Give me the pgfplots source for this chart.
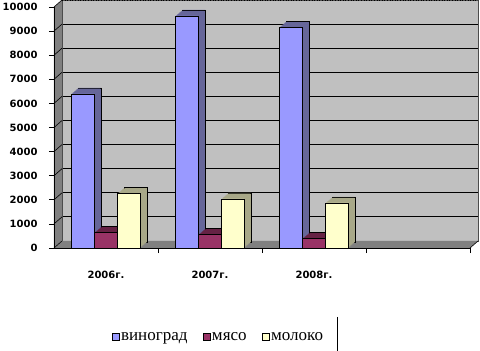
\documentclass[border=0pt]{standalone}
\usepackage{pgfplots}
\pgfplotsset{compat=1.18}
\usepackage{pgfplotstable}
\usepackage{fontspec}
\setmainfont{Liberation Serif}
\newfontfamily\tickfont{DejaVu Sans}
\definecolor{wall}{HTML}{C0C0C0}
\definecolor{side}{HTML}{808080}
\definecolor{vinF}{HTML}{9999FF}
\definecolor{vinS}{HTML}{666699}
\definecolor{myaF}{HTML}{993366}
\definecolor{myaS}{HTML}{662244}
\definecolor{molF}{HTML}{FFFFCC}
\definecolor{molS}{HTML}{A8A888}

\pgfplotstableread{
x vin mya mol
0 6400 640 2260
1 9630 560 2040
2 9160 390 1870
}\data

\newcommand\sweep[4]{% #1 column, #2 side colour, #3 bar shift (pt), #4 front colour
  \addplot[forget plot, fill=#2, draw=black, line width=0.5pt, bar shift={#3pt+7pt}, yshift=6pt] table[x=x,y=#1]{\data};
  \addplot[forget plot, fill=#2, draw=none, bar shift={#3pt+6pt}, yshift=5.14pt] table[x=x,y=#1]{\data};
  \addplot[forget plot, fill=#2, draw=none, bar shift={#3pt+5pt}, yshift=4.29pt] table[x=x,y=#1]{\data};
  \addplot[forget plot, fill=#2, draw=none, bar shift={#3pt+4pt}, yshift=3.43pt] table[x=x,y=#1]{\data};
  \addplot[forget plot, fill=#2, draw=none, bar shift={#3pt+3pt}, yshift=2.57pt] table[x=x,y=#1]{\data};
  \addplot[forget plot, fill=#2, draw=none, bar shift={#3pt+2pt}, yshift=1.71pt] table[x=x,y=#1]{\data};
  \addplot[forget plot, fill=#2, draw=none, bar shift={#3pt+1pt}, yshift=0.86pt] table[x=x,y=#1]{\data};
  \addplot[fill=#4, draw=black, line width=0.5pt, bar shift={#3pt}] table[x=x,y=#1]{\data};
}

\begin{document}
\begin{tikzpicture}[x=1pt,y=1pt]
\useasboundingbox (-54,-103) rectangle (426,248);
% back wall
\begin{axis}[at={(8pt,7pt)}, anchor=south west, scale only axis,
  width=416pt, height=241pt, xmin=-0.5, xmax=3.5, ymin=0, ymax=10000,
  xtick=\empty, ytick={0,1000,...,10000}, yticklabels={}, major tick length=0pt,
  scaled y ticks=false,
  ymajorgrids, grid style={black, line width=0.9pt},
  axis background/.style={fill=wall},
  axis line style={draw=gray!60!black, line width=0.6pt}]
\end{axis}
\draw[black, line width=0.6pt, dotted] (8,248) -- (424,248);
% side wall and floor
\fill[side] (0,0) -- (8,7) -- (8,248) -- (0,241) -- cycle;
\fill[side] (0,0) -- (416,0) -- (424,7) -- (8,7) -- cycle;
\foreach \k in {0,...,10} \draw[black, line width=0.6pt] (0,{24.1*\k}) -- (8,{24.1*\k+7});
\draw[black, line width=0.6pt] (416,0) -- (424,7);
% front axis with bars
\begin{axis}[at={(0pt,0pt)}, anchor=south west, scale only axis,
  width=416pt, height=241pt, xmin=-0.5, xmax=3.5, ymin=0, ymax=10000,
  axis x line*=bottom, axis y line*=left,
  axis line style={black, line width=0.6pt, -},
  ytick={0,1000,...,10000}, scaled y ticks=false,
  tick align=outside, major tick length=5pt,
  tick style={black, line width=0.6pt},
  xtick={0.5,1.5,2.5,3.5}, xticklabels={},
  extra x ticks={0,1,2}, extra x tick labels={2006г.,2007г.,2008г.},
  extra x tick style={major tick length=0pt, xticklabel style={yshift=-20pt}},
  tick label style={font=\tickfont\bfseries\fontsize{10}{12}\selectfont},
  /pgf/number format/assume math mode=true,
  /pgf/number format/set thousands separator={},
  yticklabel style={xshift=-8pt},
  ybar, bar width=23pt,
  legend style={at={(0.395,-0.37)}, anchor=center, draw=none, fill=none,
    legend columns=-1, inner sep=0pt,
    nodes={font=\fontsize{17}{19}\selectfont, inner sep=1.5pt},
    /tikz/every even column/.append style={column sep=14pt}},
  legend image code/.code={\draw[#1,draw=black,line width=0.5pt] (0pt,-3.5pt) rectangle (7pt,3.5pt);},
]
\sweep{vin}{vinS}{-23}{vinF}
\addlegendentry{виноград}
\sweep{mya}{myaS}{0}{myaF}
\addlegendentry{мясо}
\sweep{mol}{molS}{23}{molF}
\addlegendentry{молоко}
\end{axis}
\draw[black, line width=0.8pt] (283,-69) -- (283,-103);
\end{tikzpicture}
\end{document}
